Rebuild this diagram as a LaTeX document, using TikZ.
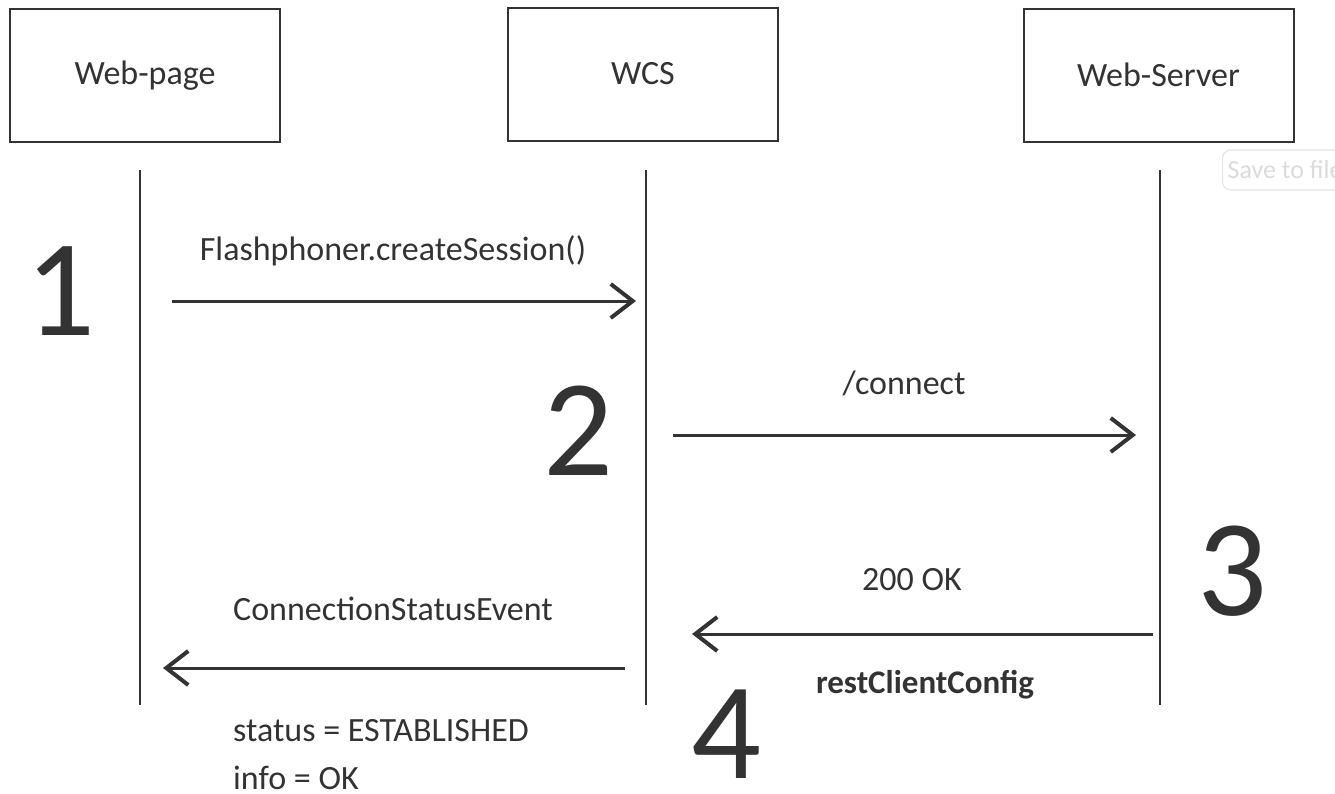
\documentclass[tikz,border=0pt]{standalone}
\usepackage{fontspec}
\setmainfont{Carlito}
\usetikzlibrary{arrows.meta}
\definecolor{ink}{HTML}{333333}
\tikzset{
  actor/.style={draw=ink, line width=2pt, minimum width=270pt, minimum height=133pt, inner sep=0pt, font=\fontsize{34}{40}\selectfont, text=ink},
  life/.style={draw=ink, line width=1.5pt},
  msg/.style={draw=ink, line width=3pt, -{Straight Barb[length=22pt,width=34pt,line width=4pt]}},
  lbl/.style={text=ink, font=\fontsize{34}{40}\selectfont, inner sep=0pt},
  num/.style={text=ink, font=\fontsize{138}{140}\selectfont, inner sep=0pt}
}
\begin{document}
\begin{tikzpicture}[x=1pt,y=-1pt]
\useasboundingbox (0,0) rectangle (1335,793);
\node[actor] (wp) at (145,75.5) {Web-page};
\node[actor] (wcs) at (643,74) {WCS};
\node[actor] (ws) at (1158.5,75) {Web-Server};
\coordinate (l1t) at (140,170); \coordinate (l1b) at (140,705);
\coordinate (l2t) at (646,170); \coordinate (l2b) at (646,705);
\coordinate (l3t) at (1160,170); \coordinate (l3b) at (1160,705);
\draw[life] (l1t) -- (l1b);
\draw[life] (l2t) -- (l2b);
\draw[life] (l3t) -- (l3b);
% message 1
\coordinate (a1s) at (172,301); \coordinate (a1e) at (636,301);
\draw[msg] (a1s) -- (a1e);
\node[lbl] (t1) at (393,251) {Flashphoner.createSession()};
\node[num] (n1) at (60,291) {1};
% message 2
\coordinate (a2s) at (673,435); \coordinate (a2e) at (1136,435);
\draw[msg] (a2s) -- (a2e);
\node[lbl] (t2) at (904,383) {/connect};
\node[num] (n2) at (578,431) {2};
% message 3
\coordinate (a3s) at (1153,634); \coordinate (a3e) at (692,634);
\draw[msg] (a3s) -- (a3e);
\node[lbl] (t3) at (912,580) {200 OK};
\node[lbl, font=\fontsize{33}{40}\selectfont\bfseries] (t3b) at (925,685) {restClientConfig};
\node[num] (n3) at (1232,571) {3};
% message 4
\coordinate (a4s) at (625,668); \coordinate (a4e) at (163,668);
\draw[msg] (a4s) -- (a4e);
\node[lbl] (t4) at (393,609) {ConnectionStatusEvent};
\node[lbl, anchor=west] (t4a) at (233,731) {status = ESTABLISHED};
\node[lbl, anchor=west] (t4b) at (233,778) {info = OK};
\node[num] (n4) at (726,734) {4};
% tooltip
\begin{scope}
\clip (0,0) rectangle (1335,793);
\node[draw=black!10, fill=white, rounded corners=8pt, line width=1.2pt, anchor=west, minimum height=40pt, inner xsep=5pt, text=black!14, font=\fontsize{26}{30}\selectfont] (tip) at (1222,170) {Save to file\hspace{40pt}};
\end{scope}
\end{tikzpicture}
\end{document}
